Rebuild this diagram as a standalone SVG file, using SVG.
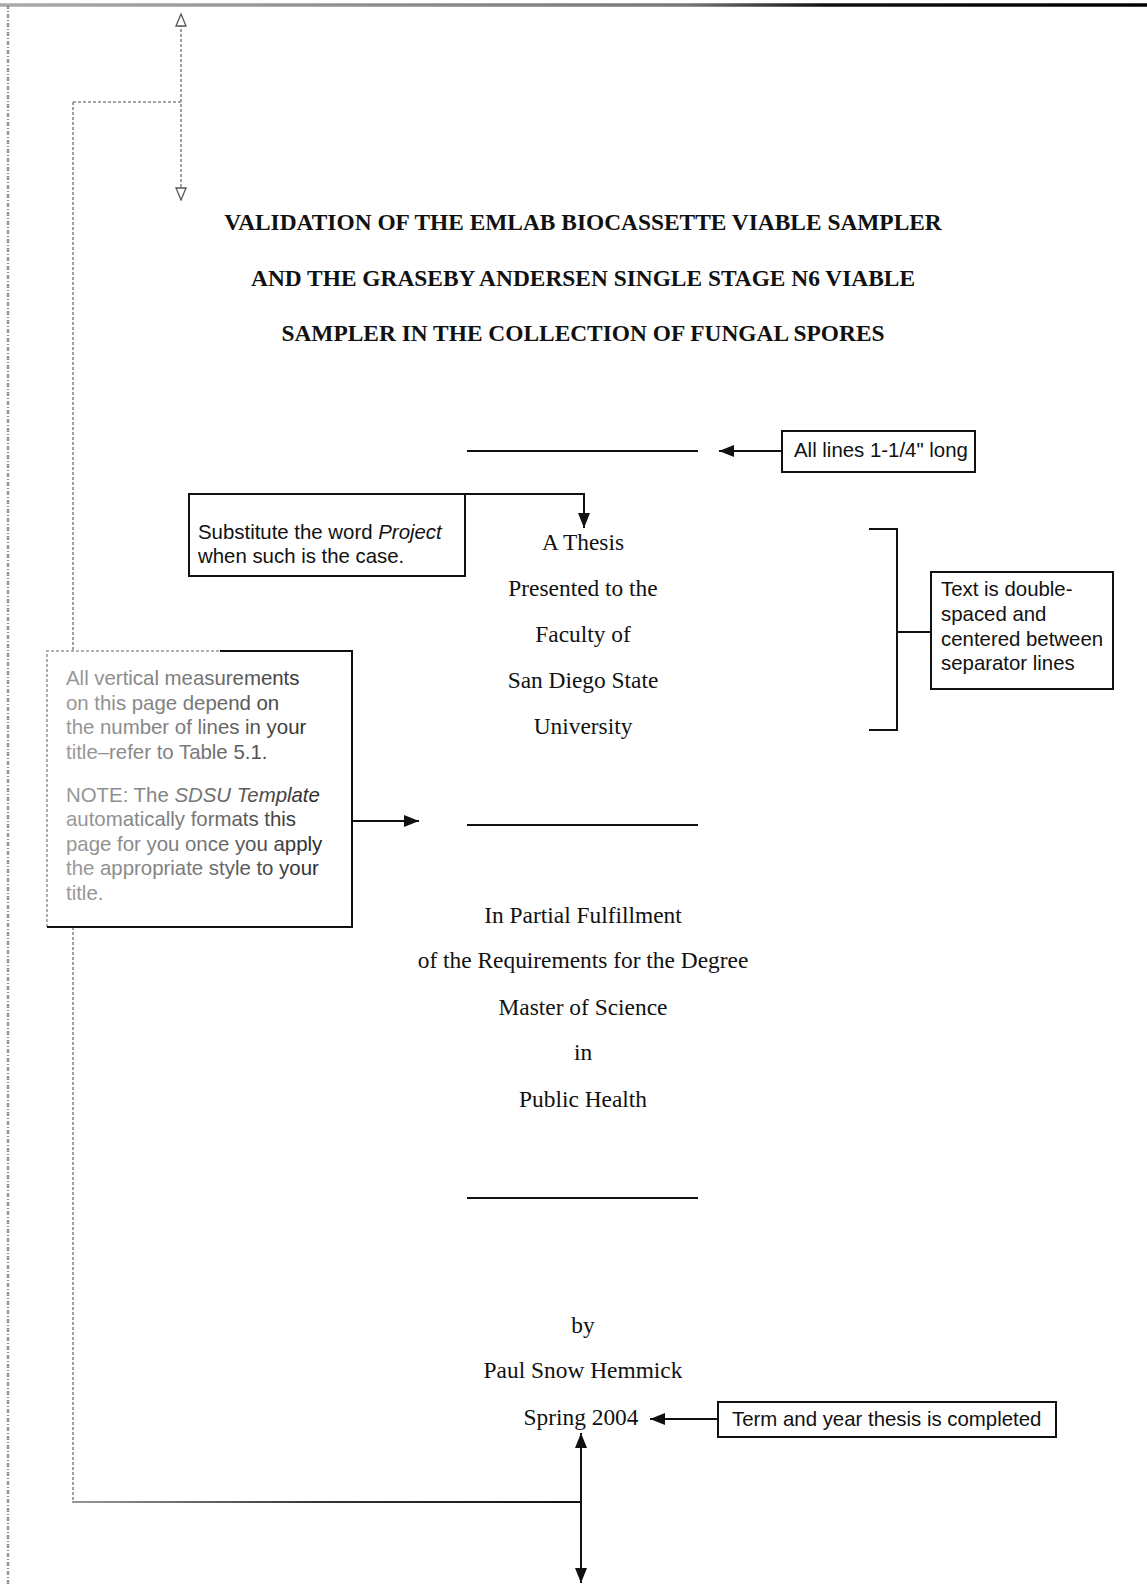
<svg xmlns="http://www.w3.org/2000/svg" width="1147" height="1585" viewBox="0 0 1147 1585">
<style>
.serif{font-family:"Liberation Serif","Times New Roman",serif;font-size:23.4px;fill:#111;text-anchor:middle}
.title{font-family:"Liberation Serif","Times New Roman",serif;font-size:23.4px;font-weight:bold;fill:#111;text-anchor:middle}
.sans{font-family:"Liberation Sans",Arial,sans-serif;font-size:20.4px;fill:#111}
.fade{fill:url(#fadeText)}
.box{fill:#fff;stroke:#111;stroke-width:2}
.conn{fill:none;stroke:#111;stroke-width:2}
.gray{fill:none;stroke:#888;stroke-width:1.6;stroke-dasharray:3 2}
.sep{stroke:#111;stroke-width:2.2}
</style>
<defs>
<marker id="arr" markerUnits="userSpaceOnUse" markerWidth="16" markerHeight="12" refX="15" refY="6" orient="auto-start-reverse">
<path d="M0,0 L15,6 L0,12 z" fill="#111"/>
</marker>
<marker id="arrOpen" markerUnits="userSpaceOnUse" markerWidth="14" markerHeight="12" refX="13" refY="6" orient="auto-start-reverse">
<path d="M1,1 L13,6 L1,11 z" fill="#fff" stroke="#555" stroke-width="1.3"/>
</marker>
<linearGradient id="topEdge" gradientUnits="userSpaceOnUse" x1="0" y1="0" x2="1147" y2="0">
<stop offset="0" stop-color="#aaa"/><stop offset="0.6" stop-color="#777"/><stop offset="0.72" stop-color="#111"/><stop offset="1" stop-color="#000"/>
</linearGradient>
<linearGradient id="bottomConn" gradientUnits="userSpaceOnUse" x1="71" y1="0" x2="581" y2="0">
<stop offset="0" stop-color="#999"/><stop offset="0.5" stop-color="#333"/><stop offset="1" stop-color="#111"/>
</linearGradient>
<linearGradient id="fadeText" gradientUnits="userSpaceOnUse" x1="66" y1="0" x2="330" y2="0">
<stop offset="0" stop-color="#9a9a9a"/><stop offset="0.5" stop-color="#777"/><stop offset="1" stop-color="#222"/>
</linearGradient>
</defs>
<rect width="1147" height="1585" fill="#fff"/>
<g id="page-edges">
<line x1="0" y1="5" x2="1147" y2="5" stroke="url(#topEdge)" stroke-width="3.5"/>
<line x1="8" y1="5" x2="8" y2="1585" stroke="#999" stroke-width="2.5" stroke-dasharray="4 2 1 2"/>
</g>
<g id="connectors">
<line class="gray" x1="181" y1="14" x2="181" y2="200" marker-start="url(#arrOpen)" marker-end="url(#arrOpen)"/>
<line class="gray" x1="73" y1="102" x2="181" y2="102"/>
<line class="gray" x1="73" y1="102" x2="73" y2="1502"/>
<line x1="72" y1="1502" x2="581" y2="1502" stroke="url(#bottomConn)" stroke-width="2"/>
<line class="conn" x1="581" y1="1433" x2="581" y2="1583" marker-start="url(#arr)" marker-end="url(#arr)"/>
<line class="conn" x1="782" y1="451" x2="719" y2="451" marker-end="url(#arr)"/>
<path class="conn" d="M465,494 H584 V528" marker-end="url(#arr)"/>
<path class="conn" d="M869,529 H897 V730 H869 M897,632 H931"/>
<line class="conn" x1="352" y1="821" x2="419" y2="821" marker-end="url(#arr)"/>
<line class="conn" x1="718" y1="1419" x2="650" y2="1419" marker-end="url(#arr)"/>
</g>
<g id="title">
<text class="title" x="583" y="230">VALIDATION OF THE EMLAB BIOCASSETTE VIABLE SAMPLER</text>
<text class="title" x="583" y="286">AND THE GRASEBY ANDERSEN SINGLE STAGE N6 VIABLE</text>
<text class="title" x="583" y="341">SAMPLER IN THE COLLECTION OF FUNGAL SPORES</text>
</g>
<g id="separators">
<line class="sep" x1="467" y1="451" x2="698" y2="451"/>
<line class="sep" x1="467" y1="825" x2="698" y2="825"/>
<line class="sep" x1="467" y1="1198" x2="698" y2="1198"/>
</g>
<g id="thesis-block">
<text class="serif" x="583" y="550">A Thesis</text>
<text class="serif" x="583" y="596">Presented to the</text>
<text class="serif" x="583" y="642">Faculty of</text>
<text class="serif" x="583" y="688">San Diego State</text>
<text class="serif" x="583" y="734">University</text>
</g>
<g id="degree-block">
<text class="serif" x="583" y="923">In Partial Fulfillment</text>
<text class="serif" x="583" y="968">of the Requirements for the Degree</text>
<text class="serif" x="583" y="1015">Master of Science</text>
<text class="serif" x="583" y="1060">in</text>
<text class="serif" x="583" y="1107">Public Health</text>
</g>
<g id="author-block">
<text class="serif" x="583" y="1333">by</text>
<text class="serif" x="583" y="1378">Paul Snow Hemmick</text>
<text class="serif" x="581" y="1425">Spring 2004</text>
</g>
<g id="note-lines">
<rect class="box" x="782" y="431" width="193" height="41"/>
<text class="sans" x="794" y="457">All lines 1-1/4" long</text>
</g>
<g id="note-project">
<rect class="box" x="189" y="494" width="276" height="82"/>
<text class="sans" x="198" y="539">Substitute the word <tspan font-style="italic">Project</tspan></text>
<text class="sans" x="198" y="563">when such is the case.</text>
</g>
<g id="note-spacing">
<rect class="box" x="931" y="572" width="182" height="117"/>
<text class="sans" x="941" y="596">Text is double-</text>
<text class="sans" x="941" y="620.5">spaced and</text>
<text class="sans" x="941" y="645.5">centered between</text>
<text class="sans" x="941" y="670">separator lines</text>
</g>
<g id="note-vertical">
<rect x="47" y="651" width="305" height="276" fill="#fff"/>
<path d="M47,927 V651 H352" fill="none" stroke="#999" stroke-width="1.6" stroke-dasharray="3 2"/>
<path d="M220,651 H352 V927 H47" fill="none" stroke="#111" stroke-width="2"/>
<text class="sans fade" x="66" y="685">All vertical measurements</text>
<text class="sans fade" x="66" y="709.5">on this page depend on</text>
<text class="sans fade" x="66" y="734">the number of lines in your</text>
<text class="sans fade" x="66" y="759">title–refer to Table 5.1.</text>
<text class="sans fade" x="66" y="801.5">NOTE: The <tspan font-style="italic">SDSU Template</tspan></text>
<text class="sans fade" x="66" y="826">automatically formats this</text>
<text class="sans fade" x="66" y="851">page for you once you apply</text>
<text class="sans fade" x="66" y="875">the appropriate style to your</text>
<text class="sans fade" x="66" y="899.5">title.</text>
</g>
<g id="note-term">
<rect class="box" x="718" y="1402" width="338" height="35"/>
<text class="sans" x="732" y="1426">Term and year thesis is completed</text>
</g>
</svg>
